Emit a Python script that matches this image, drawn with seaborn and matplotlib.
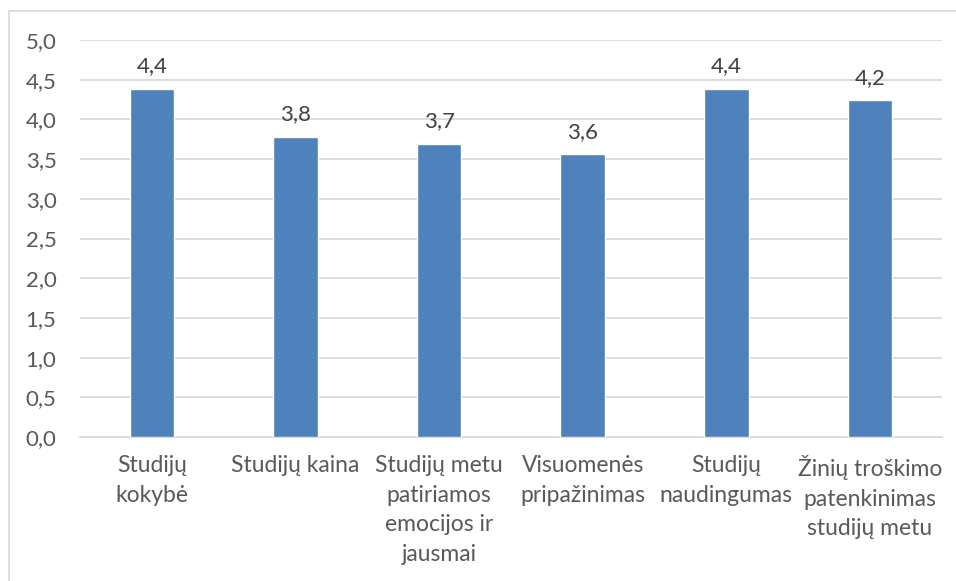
import matplotlib
matplotlib.use("Agg")
import matplotlib.pyplot as plt
import seaborn as sns
import pandas as pd
from matplotlib.patches import Rectangle

# Average ratings of study aspects
categories = [
    "Studijų\nkokybė",
    "Studijų kaina",
    "Studijų metu\npatiriamos\nemocijos ir\njausmai",
    "Visuomenės\npripažinimas",
    "Studijų\nnaudingumas",
    "Žinių troškimo\npatenkinimas\nstudijų metu",
]
values = [4.39, 3.78, 3.69, 3.56, 4.39, 4.24]
y_ticks = [0.0, 0.5, 1.0, 1.5, 2.0, 2.5, 3.0, 3.5, 4.0, 4.5, 5.0]

sns.set_theme(style="white")
plt.rcParams["font.family"] = ["Lato", "DejaVu Sans"]

df = pd.DataFrame({"aspektas": categories, "vidurkis": values})

fig = plt.figure(figsize=(9.56, 5.81), dpi=100)
ax = fig.add_axes([0.0837, 0.2478, 0.9013, 0.6832])

# light outer chart frame
fig.patches.append(Rectangle((9 / 956, -0.05), 1.0, 1 - 11 / 581 + 0.05,
                             transform=fig.transFigure, fill=False,
                             edgecolor="#d9d9d9", linewidth=1.2, zorder=0))

sns.barplot(data=df, x="aspektas", y="vidurkis", color="#4f81bd",
            saturation=1, width=0.31, ax=ax, zorder=3)

ax.set_ylim(0, 5)
ax.set_xlim(-0.5, len(categories) - 0.5)
ax.set_yticks(y_ticks)
ax.set_yticklabels([f"{t:.1f}".replace(".", ",") for t in y_ticks])
ax.yaxis.grid(True, color="#d9d9d9", linewidth=1.3, zorder=0)
ax.set_axisbelow(True)
for s in ["left", "right", "top"]:
    ax.spines[s].set_visible(False)
ax.spines["bottom"].set_color("#d9d9d9")
ax.spines["bottom"].set_linewidth(1.3)
ax.set_xlabel("")
ax.set_ylabel("")
ax.tick_params(axis="y", length=0, pad=17, labelsize=16, labelcolor="#595959")
ax.tick_params(axis="x", length=0, pad=13, labelsize=16.5, labelcolor="#595959")
for lab in ax.get_xticklabels():
    lab.set_linespacing(1.5)
    lab.set_verticalalignment("top")

ax.bar_label(ax.containers[0],
             labels=[f"{v:.1f}".replace(".", ",") for v in values],
             padding=9, fontsize=16, color="#404040")

fig.savefig("out.png", dpi=100)
